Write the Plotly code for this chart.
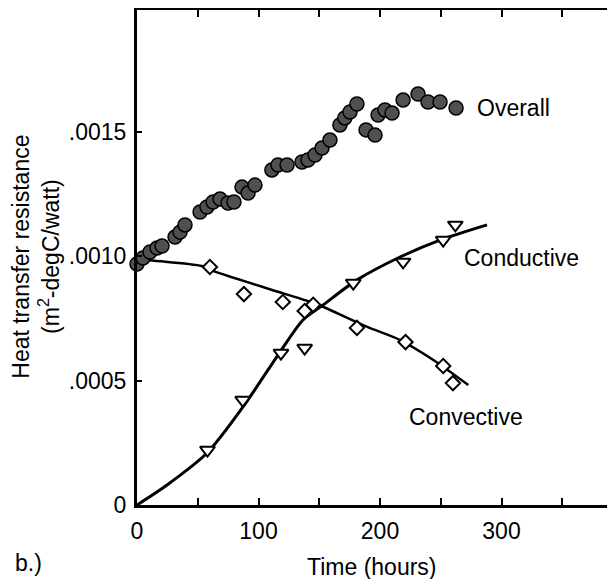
import plotly.graph_objects as go

# Overall resistance (filled circles)
overall_t = [0, 4.9, 10.7, 16.5, 20.6, 31.3, 35.4, 39.5, 51.9, 57.6, 62.6, 68.3, 74.9, 79.8,
             86.4, 91.4, 97.1, 111, 116, 123.5, 135.8, 140.7, 146.5, 152.3, 158.8,
             167, 171, 175.3, 181, 188.5, 195.9, 198.4, 204.1, 209.9, 219, 231.3, 239.5, 249.4, 262.6]
overall_r = [0.000969, 0.000993, 0.001017, 0.001033, 0.001041, 0.001077, 0.001097, 0.001126,
             0.001178, 0.001198, 0.001218, 0.001230, 0.001214, 0.001218,
             0.001278, 0.001254, 0.001286, 0.001347, 0.001367, 0.001367,
             0.001379, 0.001387, 0.001407, 0.001435, 0.001467,
             0.001528, 0.001556, 0.001580, 0.001612, 0.001508, 0.001487,
             0.001568, 0.001588, 0.001576, 0.001628, 0.001652, 0.001620, 0.001620, 0.001596]

# Convective resistance (open diamonds)
conv_t = [60, 88, 120, 138, 145, 181, 221, 252, 260]
conv_r = [0.000957, 0.000848, 0.000816, 0.000780, 0.000805, 0.000712, 0.000655, 0.000559, 0.000490]

# Conductive resistance (open down-triangles)
cond_t = [58, 87, 118.5, 138, 178, 219, 252, 262]
cond_r = [0.000221, 0.000422, 0.000611, 0.000631, 0.000892, 0.000977, 0.001065, 0.001126]

# Fitted curves
conv_fit_t = [0, 14.8, 53.3, 64.2, 120.4, 142.4, 153.1, 189, 216.5, 243.9, 272.7]
conv_fit_r = [0.000989, 0.000982, 0.000961, 0.000938, 0.000851, 0.000817, 0.000797, 0.000717, 0.000663, 0.000583, 0.000482]
cond_fit_t = [0, 24.7, 57.6, 87.2, 117.7, 136.6, 153.1, 181.1, 216.5, 249.4, 288.1]
cond_fit_r = [0, 0.0000804, 0.000209, 0.000394, 0.000615, 0.000744, 0.000804, 0.000905, 0.000997, 0.001065, 0.001126]

x_tickvals = [0, 50, 100, 150, 200, 250, 300, 350]
x_ticktext = ["0", "", "100", "", "200", "", "300", ""]
y_tickvals = [0, 0.0005, 0.0010, 0.0015]
y_ticktext = ["0", ".0005", ".0010", ".0015"]

FONT = "Liberation Sans, Arial, sans-serif"

fig = go.Figure()
fig.add_trace(go.Scatter(x=conv_fit_t, y=conv_fit_r, mode="lines",
                         line=dict(color="black", width=2.5, shape="spline", smoothing=0.8),
                         cliponaxis=False, hoverinfo="skip"))
fig.add_trace(go.Scatter(x=cond_fit_t, y=cond_fit_r, mode="lines",
                         line=dict(color="black", width=3, shape="spline", smoothing=0.8),
                         cliponaxis=False, hoverinfo="skip"))
fig.add_trace(go.Scatter(x=conv_t, y=conv_r, mode="markers",
                         marker=dict(symbol="diamond", size=11, color="white", line=dict(color="black", width=2)),
                         cliponaxis=False))
fig.add_trace(go.Scatter(x=cond_t, y=cond_r, mode="markers",
                         marker=dict(symbol="triangle-down", size=13, color="white", line=dict(color="black", width=2)),
                         cliponaxis=False))
fig.add_trace(go.Scatter(x=overall_t, y=overall_r, mode="markers",
                         marker=dict(symbol="circle", size=14, color="#505050", line=dict(color="black", width=1.5)),
                         cliponaxis=False))

annots = [
    dict(x=278, y=0.001596, xref="x", yref="y", text="Overall", xanchor="left", yanchor="middle"),
    dict(x=267.5, y=0.000993, xref="x", yref="y", text="Conductive", xanchor="left", yanchor="middle"),
    dict(x=222, y=0.000354, xref="x", yref="y", text="Convective", xanchor="left", yanchor="middle"),
    dict(x=0.4916, y=-0.125, xref="paper", yref="paper", text="Time (hours)", xanchor="center", yanchor="middle"),
    dict(x=-0.228, y=-0.117, xref="paper", yref="paper", text="b.)", xanchor="center", yanchor="middle"),
    dict(x=-0.2120, y=0.501, xref="paper", yref="paper", text="Heat transfer resistance<br>(m<sup>2</sup>-degC/watt)",
         textangle=-90, xanchor="center", yanchor="middle"),
]
for a in annots:
    a.update(showarrow=False, font=dict(family=FONT, size=23, color="black"))

# The page body has an 8px default margin, so the figure is sized/margined to compensate.
fig.update_layout(
    width=607, height=571,
    margin=dict(l=129, r=0, t=2, b=74),
    paper_bgcolor="white", plot_bgcolor="white",
    showlegend=False,
    font=dict(family=FONT, size=23, color="black"),
    annotations=annots,
    xaxis=dict(range=[0, 393.4], tickvals=x_tickvals, ticktext=x_ticktext, ticks="inside", ticklen=7, tickwidth=2,
               tickcolor="black", showline=True, linewidth=3, linecolor="black", mirror="ticks",
               showgrid=False, zeroline=False, ticklabelstandoff=3),
    yaxis=dict(range=[0, 0.00199], tickvals=y_tickvals, ticktext=y_ticktext, ticks="inside", ticklen=5, tickwidth=2,
               tickcolor="black", showline=True, linewidth=3, linecolor="black",
               showgrid=False, zeroline=False, ticklabelstandoff=3),
)

fig.write_html("out.html")
